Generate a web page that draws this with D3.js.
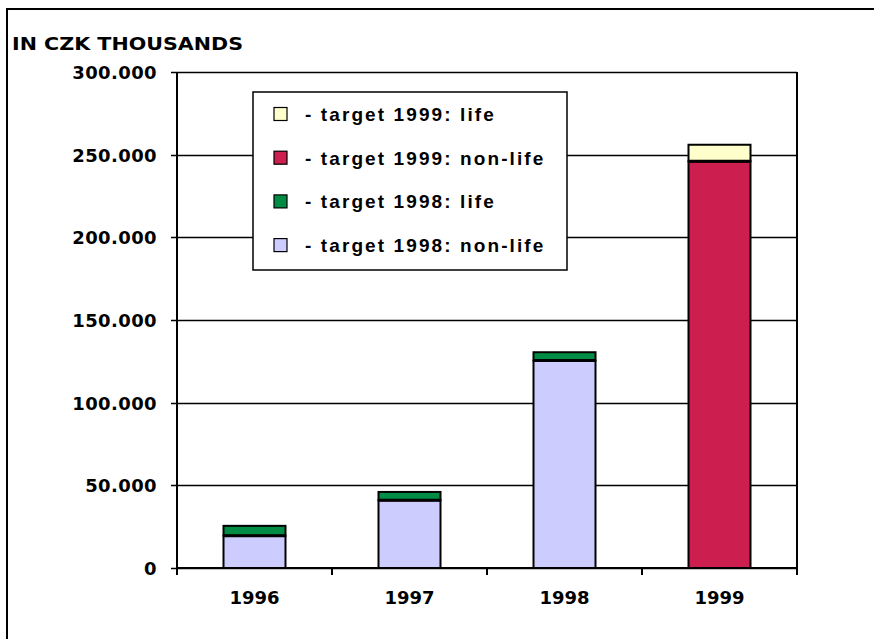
<!DOCTYPE html>
<html>
<head>
<meta charset="utf-8">
<script src="https://cdn.jsdelivr.net/npm/d3@7"></script>
<style>
  body { margin: 0; background: #fff; }
  svg { display: block; }
  .lbl { font-family: "DejaVu Sans", Verdana, sans-serif; font-weight: bold; font-size: 18px; fill: #000; }
  .leg { font-family: "Liberation Sans", Arial, sans-serif; font-weight: bold; font-size: 19px; fill: #000; }
</style>
</head>
<body>
<svg id="chart" width="874" height="639"></svg>
<script>
// values in CZK thousands
var years = ["1996", "1997", "1998", "1999"];
var nonLife = [19500, 41000, 125500, 246000];
var life = [6000, 5000, 5000, 10000];
var yTicks = [0, 50000, 100000, 150000, 200000, 250000, 300000];

var legendLabels = ["- target 1999: life", "- target 1999: non-life", "- target 1998: life", "- target 1998: non-life"];
var legendColors = ["#ffffcc", "#cc1f4f", "#008c44", "#ccccff"];

// 1996-1998 bars use the 1998 colours, 1999 uses the 1999 ones
function colorFor(year, part) {
	if (year == "1999") return part == "life" ? "#ffffcc" : "#cc1f4f";
	return part == "life" ? "#008c44" : "#ccccff";
}

var svg = d3.select("#chart");
var plotL = 177, plotR = 797, plotT = 72, plotB = 568;

var locale = d3.formatLocale({decimal: ",", thousands: ".", grouping: [3], currency: ["", ""]});
var fmt = locale.format(",.0f");

var y = d3.scaleLinear().domain([0, 300000]).range([plotB, plotT]);
var x = d3.scaleBand().domain(years).range([plotL, plotR]).paddingInner(0.6).paddingOuter(0.3);
var xEdge = d3.scaleBand().domain(years).range([plotL, plotR]);

var rows = years.map(function(yr, i) {
	return {year: yr, nonlife: nonLife[i], life: life[i]};
});
var stacked = d3.stack().keys(["nonlife", "life"])(rows);

// outer frame
svg.append("rect")
	.attr("x", 7).attr("y", 9)
	.attr("width", 900).attr("height", 700)
	.attr("fill", "none").attr("stroke", "#000").attr("stroke-width", 2);

svg.append("text")
	.attr("class", "lbl")
	.attr("x", 12).attr("y", 50)
	.attr("textLength", 231).attr("lengthAdjust", "spacingAndGlyphs")
	.text("IN CZK THOUSANDS");

// gridlines with tick stubs
svg.append("g").selectAll("line")
	.data(yTicks)
	.enter().append("line")
	.attr("x1", plotL - 6).attr("x2", plotR)
	.attr("y1", function(d) { return Math.round(y(d)) + 0.5; })
	.attr("y2", function(d) { return Math.round(y(d)) + 0.5; })
	.attr("stroke", "#000").attr("stroke-width", 1.3);

svg.append("g").selectAll("text")
	.data(yTicks)
	.enter().append("text")
	.attr("class", "lbl")
	.attr("x", 157)
	.attr("y", function(d) { return y(d) + 7; })
	.attr("text-anchor", "end")
	.style("letter-spacing", "0.4px")
	.text(function(d) { return fmt(d); });

// bars
svg.append("g").selectAll("g")
	.data(stacked)
	.enter().append("g")
	.selectAll("rect")
	.data(function(s) { return s.map(function(d) { d.key = s.key; return d; }); })
	.enter().append("rect")
	.attr("x", function(d) { return x(d.data.year); })
	.attr("width", x.bandwidth())
	.attr("y", function(d) { return y(d[1]); })
	.attr("height", function(d) { return y(d[0]) - y(d[1]); })
	.attr("fill", function(d) { return colorFor(d.data.year, d.key); })
	.attr("stroke", "#000").attr("stroke-width", 2);

// thicker seam between the two parts of each bar
svg.append("g").selectAll("line")
	.data(rows)
	.enter().append("line")
	.attr("x1", function(d) { return x(d.year); })
	.attr("x2", function(d) { return x(d.year) + x.bandwidth(); })
	.attr("y1", function(d) { return y(d.nonlife); })
	.attr("y2", function(d) { return y(d.nonlife); })
	.attr("stroke", "#000").attr("stroke-width", 3);

// axes
svg.append("line")
	.attr("x1", plotL).attr("x2", plotL).attr("y1", plotT).attr("y2", plotB + 7)
	.attr("stroke", "#000").attr("stroke-width", 2);
svg.append("line")
	.attr("x1", plotR).attr("x2", plotR).attr("y1", plotT).attr("y2", plotB + 7)
	.attr("stroke", "#000").attr("stroke-width", 2);
svg.append("line")
	.attr("x1", plotL).attr("x2", plotR).attr("y1", plotB).attr("y2", plotB)
	.attr("stroke", "#000").attr("stroke-width", 2);

svg.append("g").selectAll("line")
	.data(years.slice(1))
	.enter().append("line")
	.attr("x1", function(d) { return xEdge(d); })
	.attr("x2", function(d) { return xEdge(d); })
	.attr("y1", plotB).attr("y2", plotB + 7)
	.attr("stroke", "#000").attr("stroke-width", 2);

svg.append("g").selectAll("text")
	.data(years)
	.enter().append("text")
	.attr("class", "lbl")
	.attr("x", function(d) { return xEdge(d) + xEdge.bandwidth() / 2; })
	.attr("y", 604)
	.attr("text-anchor", "middle")
	.text(function(d) { return d; });

// legend
var lg = svg.append("g");
lg.append("rect")
	.attr("x", 253).attr("y", 92).attr("width", 314).attr("height", 178)
	.attr("fill", "#fff").attr("stroke", "#000").attr("stroke-width", 1.5);

var items = lg.selectAll("g.item")
	.data(legendLabels)
	.enter().append("g")
	.attr("class", "item")
	.attr("transform", function(d, i) { return "translate(274," + (114 + i * 43.7) + ")"; });

items.append("rect")
	.attr("x", 0).attr("y", -6.5).attr("width", 13).attr("height", 13)
	.attr("fill", function(d, i) { return legendColors[i]; })
	.attr("stroke", "#000").attr("stroke-width", 1.2);

items.append("text")
	.attr("class", "leg")
	.attr("x", 31).attr("y", 7)
	.style("letter-spacing", "2.1px")
	.text(function(d) { return d; });
</script>
</body>
</html>
